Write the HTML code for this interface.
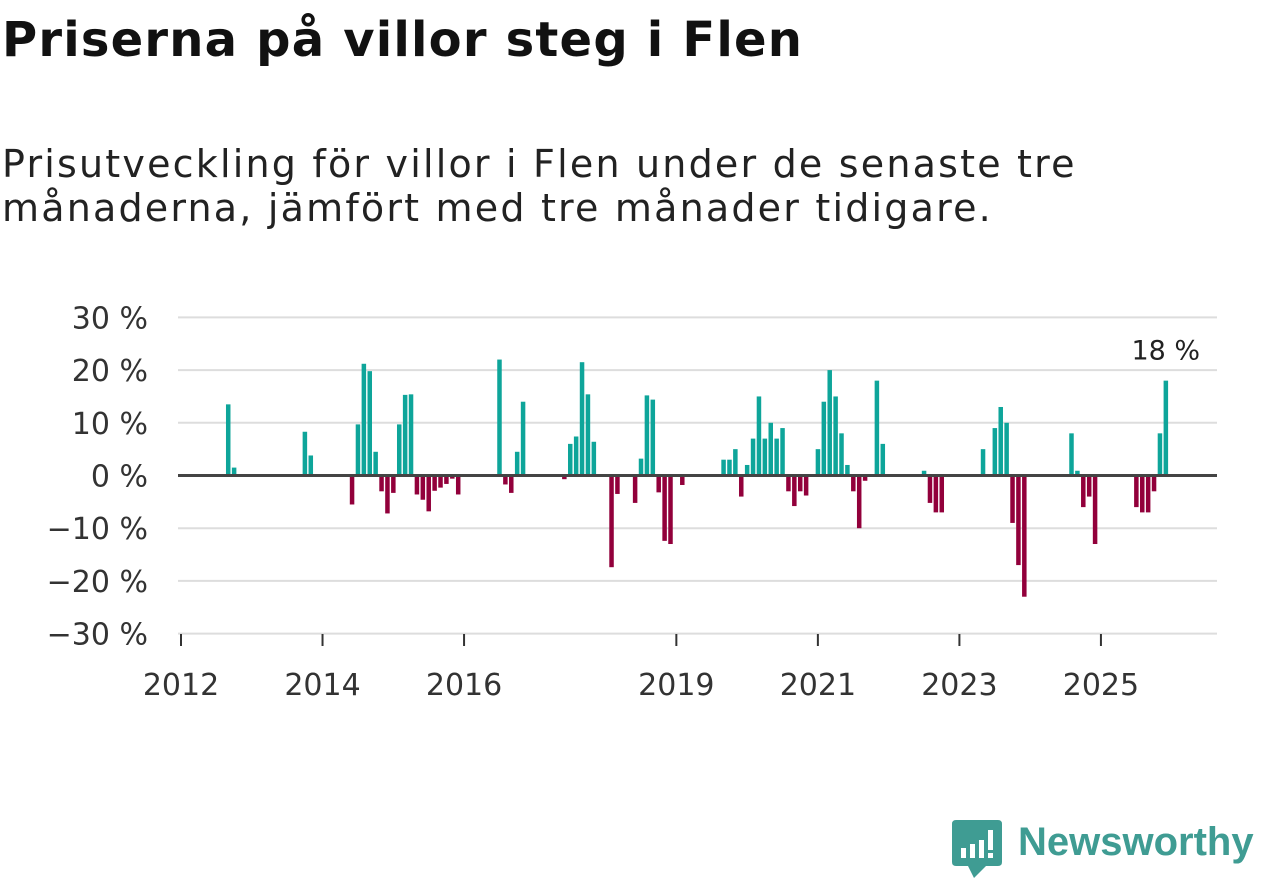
<!DOCTYPE html>
<html><head><meta charset="utf-8">
<style>
body{margin:0;width:1262px;height:879px;background:#fff;overflow:hidden;font-family:"DejaVu Sans",sans-serif;position:relative}
#title{position:absolute;left:2px;top:12px;font-size:48px;font-weight:bold;color:#111;white-space:nowrap;letter-spacing:1.2px}
#sub{position:absolute;left:2px;top:142px;font-size:38px;line-height:44px;color:#222;white-space:nowrap;letter-spacing:2.2px}
svg{position:absolute;left:0;top:0}
</style></head><body>
<div id="title">Priserna på villor steg i Flen</div>
<div id="sub">Prisutveckling för villor i Flen under de senaste tre<br>månaderna, jämfört med tre månader tidigare.</div>
<svg id="chart" width="1262" height="879"></svg>
<script>
const months=[8,9,21,22,29,30,31,32,33,34,35,36,37,38,39,40,41,42,43,44,45,46,47,54,55,56,57,58,65,66,67,68,69,70,73,74,77,78,79,80,81,82,83,85,92,93,94,95,96,97,98,99,100,101,102,103,104,105,106,108,109,110,111,112,113,114,115,116,118,119,126,127,128,129,136,138,139,140,141,142,143,151,152,153,154,155,162,163,164,165,166,167];
const values=[13.5,1.5,8.3,3.8,-5.5,9.7,21.2,19.8,4.5,-3,-7.2,-3.3,9.7,15.3,15.4,-3.6,-4.6,-6.8,-2.9,-2.3,-1.6,-0.6,-3.6,22,-1.7,-3.3,4.5,14,-0.7,6,7.4,21.5,15.4,6.4,-17.4,-3.5,-5.2,3.2,15.2,14.4,-3.2,-12.4,-13,-1.8,3,3,5,-4,2,7,15,7,10,7,9,-3,-5.8,-3,-3.8,5,14,20,15,8,2,-3,-10,-1,18,6,0.9,-5.2,-7,-7,5,9,13,10,-9,-17,-23,8,0.9,-6,-4,-13,-6,-7,-7,-3,8,18];
const yTicks=[30,20,10,0,-10,-20,-30];
const yLabels=["30 %","20 %","10 %","0 %","−10 %","−20 %","−30 %"];
const xTickYears=[2012,2014,2016,2019,2021,2023,2025];
const NS="http://www.w3.org/2000/svg";
const svg=document.getElementById('chart');
const x0=181,pitch=5.897,yZero=475.5,ppu=5.27;
const x=m=>x0+m*pitch;
const y=v=>yZero-v*ppu;
function el(t,a){const e=document.createElementNS(NS,t);for(const k in a)e.setAttribute(k,a[k]);svg.appendChild(e);return e;}
yTicks.forEach((t,i)=>{
 if(t!==0){const g=el('line',{x1:178,x2:1217,y1:y(t),y2:y(t),stroke:'#ddd','stroke-width':2});
 
 }
 const tx=el('text',{x:148,y:y(t)+11,'text-anchor':'end','font-size':30,fill:'#333'});
 tx.textContent=yLabels[i];
 
 
});
xTickYears.forEach(yr=>{
 const xx=x((yr-2012)*12);
 const tk=el('line',{x1:xx,x2:xx,y1:634,y2:646,stroke:'#333','stroke-width':2});
 
 
 const tx=el('text',{x:xx,y:695,'text-anchor':'middle','font-size':30,fill:'#333'});
 tx.textContent=yr;
 
 
});
months.forEach((m,i)=>{
 const v=values[i];
 const b=el('rect',{x:x(m)-2.2,width:4.5,y:v>=0?y(v):yZero,height:Math.abs(v)*ppu,fill:v>=0?'#0ea59a':'#92003b'});
 
 
});
const z=el('line',{x1:178,x2:1217,y1:yZero,y2:yZero,stroke:'#444','stroke-width':3});


const li=months.length-1;
const lab=el('text',{x:x(months[li]),y:y(values[li])-21,'text-anchor':'middle','font-size':27,fill:'#222'});
lab.textContent=Math.round(values[li])+' %';


</script>
<div style="position:absolute;left:952px;top:820px;width:310px;height:59px">
<svg width="50" height="59" style="position:absolute;left:0;top:0"><path d="M4 0H46Q50 0 50 4V42Q50 46 46 46H34L22 58L16 46H4Q0 46 0 42V4Q0 0 4 0Z" fill="#3f9c93"/><rect x="9" y="28" width="5" height="10" fill="#fff"/><rect x="18" y="24" width="5" height="14" fill="#fff"/><rect x="27" y="20" width="5" height="18" fill="#fff"/><rect x="36" y="10" width="5" height="20" fill="#fff"/><rect x="36" y="33" width="5" height="5" fill="#fff"/></svg>
<div style="position:absolute;left:66px;top:0px;font-family:'Liberation Sans',sans-serif;font-size:40px;font-weight:bold;color:#3f9c93;white-space:nowrap">Newsworthy</div>
</div>
</body></html>
